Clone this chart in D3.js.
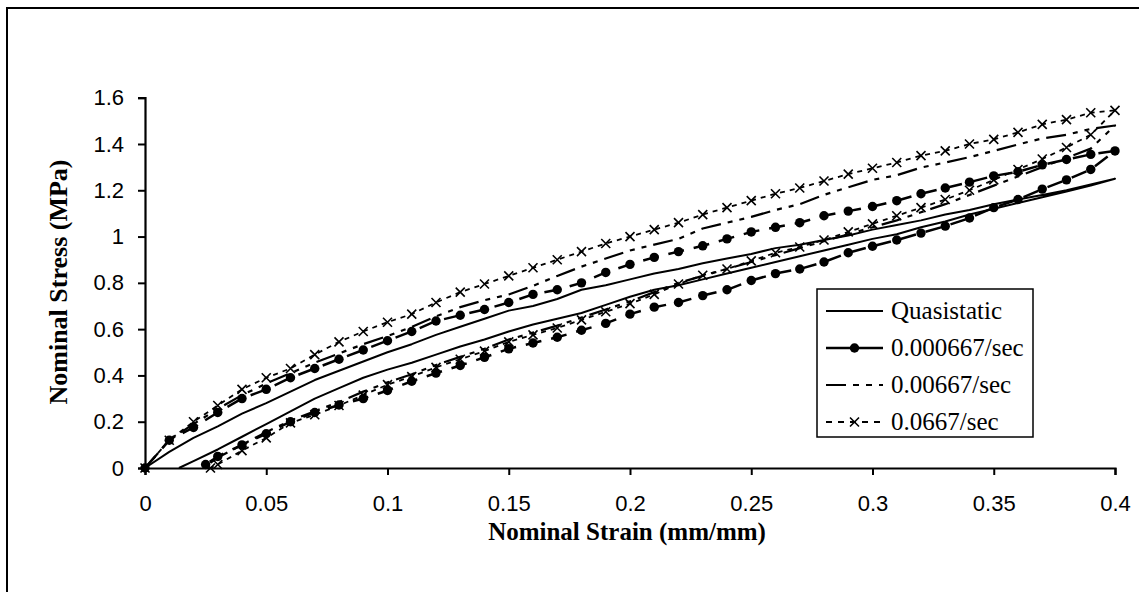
<!DOCTYPE html>
<html><head><meta charset="utf-8">
<script src="https://cdn.jsdelivr.net/npm/d3@7"></script>
<style>body{margin:0;background:#fff}</style>
</head><body>
<svg id="c" width="1139" height="592"></svg>
<script>
// ---------- DATA ----------
const seriesNames = ["Quasistatic", "0.000667/sec", "0.00667/sec", "0.0667/sec"];
const xTickValues = [0, 0.05, 0.1, 0.15, 0.2, 0.25, 0.3, 0.35, 0.4];
const xTickLabels = ["0", "0.05", "0.1", "0.15", "0.2", "0.25", "0.3", "0.35", "0.4"];
const yTickValues = [0, 0.2, 0.4, 0.6, 0.8, 1, 1.2, 1.4, 1.6];
const yTickLabels = ["0", "0.2", "0.4", "0.6", "0.8", "1", "1.2", "1.4", "1.6"];

// loading branch strains (shared)
const loadStrain = [0,0.01,0.02,0.03,0.04,0.05,0.06,0.07,0.08,0.09,0.10,0.11,0.12,0.13,0.14,0.15,0.16,0.17,0.18,0.19,0.20,
  0.21,0.22,0.23,0.24,0.25,0.26,0.27,0.28,0.29,0.30,0.31,0.32,0.33,0.34,0.35,0.36,0.37,0.38,0.39,0.40];

const quasiLoad = [0,0.07,0.13,0.18,0.235,0.28,0.33,0.38,0.42,0.46,0.50,0.535,0.575,0.61,0.645,0.68,0.70,0.73,0.77,0.79,0.815,
  0.84,0.86,0.885,0.905,0.925,0.95,0.965,0.985,1.005,1.03,1.05,1.07,1.095,1.115,1.14,1.16,1.18,1.20,1.225,1.25];
const rate1Load = [0,0.12,0.175,0.24,0.30,0.34,0.39,0.43,0.47,0.51,0.55,0.59,0.635,0.66,0.685,0.715,0.75,0.77,0.80,0.845,0.88,
  0.91,0.935,0.96,0.99,1.02,1.04,1.06,1.09,1.11,1.13,1.155,1.185,1.21,1.235,1.262,1.28,1.31,1.333,1.355,1.37];
const rate2Load = [0,0.12,0.19,0.255,0.315,0.365,0.41,0.455,0.495,0.535,0.57,0.61,0.655,0.695,0.725,0.75,0.787,0.83,0.87,0.905,0.94,
  0.965,0.99,1.035,1.06,1.085,1.115,1.14,1.18,1.213,1.245,1.265,1.298,1.32,1.343,1.37,1.398,1.424,1.44,1.465,1.48];
const rate3Load = [0,0.12,0.20,0.27,0.34,0.39,0.43,0.49,0.545,0.59,0.63,0.665,0.715,0.76,0.795,0.83,0.865,0.90,0.935,0.97,1.00,
  1.03,1.06,1.095,1.125,1.155,1.185,1.21,1.24,1.27,1.295,1.32,1.35,1.37,1.40,1.42,1.45,1.485,1.505,1.535,1.545];

// unloading branches
const quasiUnloadStrain = [0.40,0.39,0.38,0.37,0.36,0.35,0.34,0.33,0.32,0.31,0.30,0.29,0.28,0.27,0.26,0.25,0.24,0.23,0.22,0.21,
  0.20,0.19,0.18,0.17,0.16,0.15,0.14,0.13,0.12,0.11,0.10,0.09,0.08,0.07,0.06,0.05,0.04,0.03,0.02,0.014];
const quasiUnload = [1.25,1.22,1.195,1.17,1.145,1.12,1.095,1.065,1.04,1.01,0.99,0.965,0.94,0.915,0.89,0.865,0.84,0.815,0.79,0.77,
  0.74,0.705,0.67,0.645,0.62,0.59,0.555,0.525,0.49,0.455,0.425,0.39,0.345,0.30,0.245,0.19,0.135,0.08,0.03,0];

const rate1UnloadStrain = [0.40,0.39,0.38,0.37,0.36,0.35,0.34,0.33,0.32,0.31,0.30,0.29,0.28,0.27,0.26,0.25,0.24,0.23,0.22,0.21,
  0.20,0.19,0.18,0.17,0.16,0.15,0.14,0.13,0.12,0.11,0.10,0.09,0.08,0.07,0.06,0.05,0.04,0.03,0.025];
const rate1Unload = [1.37,1.29,1.245,1.205,1.16,1.125,1.08,1.045,1.015,0.985,0.958,0.93,0.89,0.86,0.84,0.81,0.77,0.745,0.715,0.695,
  0.665,0.625,0.595,0.565,0.54,0.515,0.478,0.443,0.41,0.375,0.335,0.30,0.272,0.24,0.20,0.148,0.10,0.05,0.015];

const rate2UnloadStrain = [0.40,0.39,0.38,0.37,0.36,0.35,0.34,0.33,0.32,0.31,0.30,0.29,0.28,0.27,0.26,0.25,0.24,0.23,0.22,0.21,
  0.20,0.19,0.18,0.17,0.16,0.15,0.14,0.13,0.12,0.11,0.10,0.09,0.08,0.07,0.06,0.05,0.04,0.03,0.024];
const rate2Unload = [1.48,1.38,1.34,1.30,1.26,1.22,1.18,1.14,1.105,1.07,1.04,1.01,0.98,0.95,0.92,0.89,0.86,0.83,0.80,0.76,
  0.72,0.685,0.65,0.615,0.585,0.555,0.515,0.48,0.445,0.405,0.37,0.33,0.285,0.245,0.205,0.155,0.10,0.045,0];

const rate3UnloadStrain = [0.40,0.39,0.38,0.37,0.36,0.35,0.34,0.33,0.32,0.31,0.30,0.29,0.28,0.27,0.26,0.25,0.24,0.23,0.22,0.21,
  0.20,0.19,0.18,0.17,0.16,0.15,0.14,0.13,0.12,0.11,0.10,0.09,0.08,0.07,0.06,0.05,0.04,0.03,0.027];
const rate3Unload = [1.545,1.44,1.385,1.335,1.29,1.245,1.20,1.16,1.125,1.09,1.055,1.02,0.985,0.955,0.93,0.895,0.86,0.833,0.795,0.75,
  0.71,0.675,0.64,0.605,0.575,0.545,0.505,0.47,0.435,0.395,0.36,0.315,0.27,0.23,0.195,0.13,0.075,0.015,0];

// ---------- BUILD ----------
function loop(ls, lv, us, uv) {
  const pts = ls.map((s, i) => [s, lv[i]]);
  us.forEach((s, i) => { if (i > 0) pts.push([s, uv[i]]); });
  return pts;
}
const series = [
  {name: seriesNames[0], pts: loop(loadStrain, quasiLoad, quasiUnloadStrain, quasiUnload), dash: null, legendDash: null, width: 2, marker: null},
  {name: seriesNames[1], pts: loop(loadStrain, rate1Load, rate1UnloadStrain, rate1Unload), dash: "16,10", legendDash: null, width: 2.5, marker: "circle"},
  {name: seriesNames[2], pts: loop(loadStrain, rate2Load, rate2UnloadStrain, rate2Unload), dash: "20,7,5,7,5,7", legendDash: "20,7,6,7,6,7", width: 2.2, marker: null},
  {name: seriesNames[3], pts: loop(loadStrain, rate3Load, rate3UnloadStrain, rate3Unload), dash: "5,5", legendDash: "6,6", width: 1.8, marker: "x"}
];

const svg = d3.select("#c");
svg.append("rect").attr("x", 7).attr("y", 8).attr("width", 1160).attr("height", 620)
  .attr("fill", "#fff").attr("stroke", "#000").attr("stroke-width", 2);

const x = d3.scaleLinear().domain([0, 0.4]).range([145, 1115]);
const y = d3.scaleLinear().domain([0, 1.6]).range([468, 97.7]);

const gx = svg.append("g").attr("transform", "translate(0,468)")
  .call(d3.axisBottom(x).tickValues(xTickValues).tickFormat((d, i) => xTickLabels[i]).tickSize(7).tickPadding(20));
const gy = svg.append("g").attr("transform", "translate(145,0)")
  .call(d3.axisLeft(y).tickValues(yTickValues).tickFormat((d, i) => yTickLabels[i]).tickSize(7).tickPadding(14));
[gx, gy].forEach(g => {
  g.select(".domain").attr("stroke", "#000").attr("stroke-width", 2.2);
  g.selectAll(".tick line").attr("stroke", "#000").attr("stroke-width", 2);
  g.selectAll(".tick text").attr("fill", "#000").style("font-family", "Liberation Sans, Arial, sans-serif").style("font-size", "22px");
});

const line = d3.line().x(d => x(d[0])).y(d => y(d[1]));
const plot = svg.append("g");
function drawMarker(g, type, cx, cy) {
  if (type === "circle") {
    g.append("circle").attr("cx", cx).attr("cy", cy).attr("r", 4.7).attr("fill", "#000");
  } else if (type === "x") {
    const s = 4.5;
    g.append("path").attr("d", `M${cx - s},${cy - s}L${cx + s},${cy + s}M${cx - s},${cy + s}L${cx + s},${cy - s}`)
      .attr("stroke", "#000").attr("stroke-width", 1.6).attr("fill", "none");
  }
}
series.forEach(s => {
  const p = plot.append("path").attr("d", line(s.pts)).attr("fill", "none")
    .attr("stroke", "#000").attr("stroke-width", s.width).attr("stroke-linejoin", "round");
  if (s.dash) p.attr("stroke-dasharray", s.dash);
  if (s.marker) s.pts.forEach(d => drawMarker(plot, s.marker, x(d[0]), y(d[1])));
});

// axis titles
svg.append("text").attr("x", 627).attr("y", 540).attr("text-anchor", "middle")
  .style("font-family", "Liberation Serif, Times New Roman, serif").style("font-weight", "bold").style("font-size", "25px")
  .text("Nominal Strain (mm/mm)");
svg.append("text").attr("transform", "translate(67,282) rotate(-90)").attr("text-anchor", "middle")
  .style("font-family", "Liberation Serif, Times New Roman, serif").style("font-weight", "bold").style("font-size", "26px")
  .text("Nominal Stress (MPa)");

// legend
const lg = svg.append("g");
lg.append("rect").attr("x", 817).attr("y", 289).attr("width", 216).attr("height", 148)
  .attr("fill", "#fff").attr("stroke", "#000").attr("stroke-width", 1.5);
const rowY = [311, 348, 385, 422];
series.forEach((s, i) => {
  const yy = rowY[i];
  const l = lg.append("line").attr("x1", 826).attr("x2", 883).attr("y1", yy).attr("y2", yy)
    .attr("stroke", "#000").attr("stroke-width", s.width);
  if (s.legendDash) l.attr("stroke-dasharray", s.legendDash);
  if (s.marker) drawMarker(lg, s.marker, 854.5, yy);
  lg.append("text").attr("x", 891).attr("y", yy + 8)
    .style("font-family", "Liberation Serif, Times New Roman, serif").style("font-size", "25px")
    .text(s.name);
});
</script>
</body></html>
